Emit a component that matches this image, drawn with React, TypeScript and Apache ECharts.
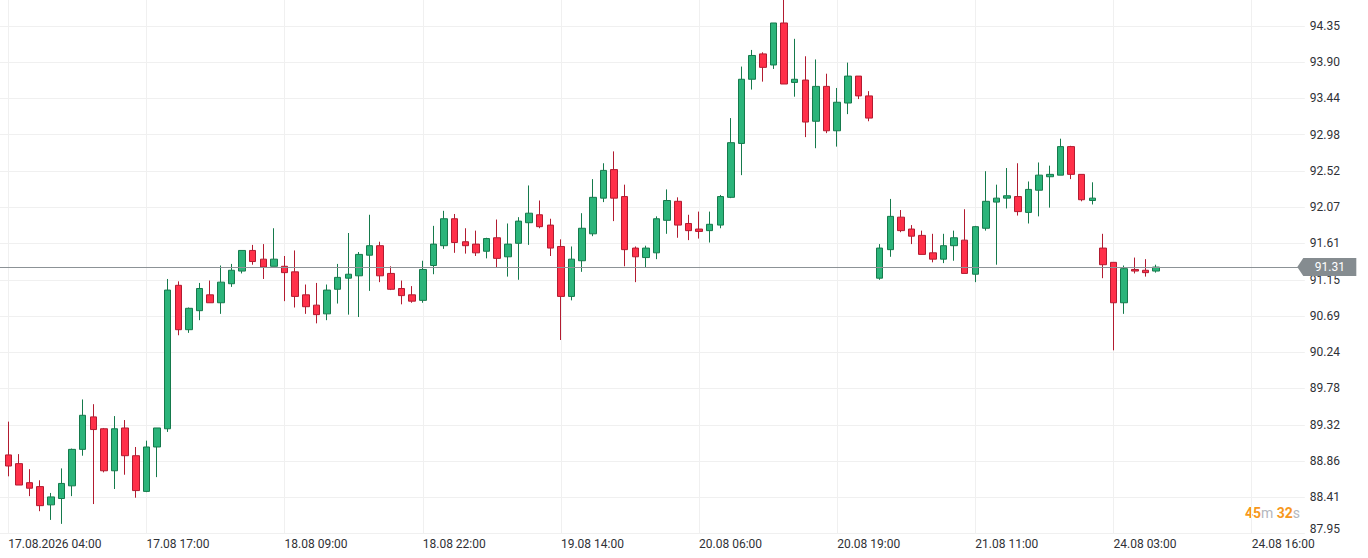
import React, { useEffect, useRef } from "react";
import * as echarts from "echarts";

// ---- data ----
const xTickLabels = [
  "17.08.2026 04:00",
  "17.08 17:00",
  "18.08 09:00",
  "18.08 22:00",
  "19.08 14:00",
  "20.08 06:00",
  "20.08 19:00",
  "21.08 11:00",
  "24.08 03:00",
  "24.08 16:00",
];
const candlesPerLabel = 13;
const lastSlot = 122;

const yTickLabels = [
  "87.95", "88.41", "88.86", "89.32", "89.78", "90.24", "90.69", "91.15",
  "91.61", "92.07", "92.52", "92.98", "93.44", "93.90", "94.35",
];

const opens = [
  88.94, 88.83, 88.59, 88.54, 88.31, 88.39, 88.55, 89.01, 89.42, 89.27,
  88.74, 89.28, 88.93, 88.48, 89.04, 89.27, 91.08, 90.52, 90.76, 90.96,
  90.86, 91.10, 91.26, 91.52, 91.41, 91.32, 91.32, 91.25, 90.96, 90.83,
  90.72, 91.03, 91.17, 91.20, 91.46, 91.58, 91.23, 91.04, 90.96, 90.89,
  91.33, 91.58, 91.92, 91.63, 91.60, 91.51, 91.68, 91.44, 91.61, 91.87,
  91.97, 91.84, 91.57, 90.94, 91.39, 91.73, 92.18, 92.54, 92.20, 91.55,
  91.43, 91.49, 91.90, 92.14, 91.86, 91.79, 91.77, 91.84, 92.19, 92.87,
  93.68, 94.00, 93.86, 94.39, 93.64, 93.67, 93.15, 93.59, 93.03, 93.38,
  93.72, 93.47, 91.17, 91.53, 91.94, 91.79, 91.71, 91.49, 91.41, 91.58,
  91.65, 91.22, 91.80, 92.13, 92.18, 92.20, 92.00, 92.28, 92.45, 92.47,
  92.83, 92.48, 92.15, 91.55, 91.37, 90.86, 91.28, 91.27, 91.26,
];
const highs = [
  89.36, 88.95, 88.76, 88.62, 88.46, 88.77, 89.02, 89.64, 89.58, 89.28,
  89.43, 89.38, 89.04, 89.12, 89.28, 91.16, 91.13, 90.80, 91.11, 91.14,
  91.33, 91.35, 91.52, 91.59, 91.60, 91.80, 91.45, 91.52, 91.09, 91.11,
  91.09, 91.35, 91.74, 91.50, 91.97, 91.63, 91.32, 91.14, 91.07, 91.39,
  91.83, 92.02, 91.98, 91.80, 91.77, 91.68, 91.91, 91.86, 91.94, 92.34,
  92.15, 91.92, 91.66, 91.57, 91.99, 92.42, 92.62, 92.77, 92.35, 91.57,
  91.58, 91.95, 92.29, 92.19, 91.97, 92.01, 92.01, 92.22, 93.19, 93.84,
  94.05, 94.02, 94.39, 94.72, 94.19, 93.97, 93.93, 93.75, 93.57, 93.89,
  93.72, 93.53, 91.60, 92.17, 92.03, 91.84, 91.77, 91.73, 91.73, 91.77,
  92.04, 91.83, 92.52, 92.35, 92.56, 92.62, 92.39, 92.63, 92.59, 92.93,
  92.84, 92.48, 92.38, 91.73, 91.37, 91.33, 91.43, 91.41, 91.34,
];
const lows = [
  88.67, 88.56, 88.42, 88.23, 88.12, 88.07, 88.42, 88.93, 88.32, 88.72,
  88.51, 88.69, 88.40, 88.47, 88.66, 89.23, 90.45, 90.48, 90.64, 90.86,
  90.72, 91.06, 91.23, 91.34, 91.16, 91.32, 90.88, 90.80, 90.72, 90.60,
  90.64, 90.85, 90.71, 90.68, 91.01, 91.12, 91.02, 90.84, 90.86, 90.86,
  91.22, 91.54, 91.49, 91.48, 91.45, 91.42, 91.30, 91.19, 91.15, 91.59,
  91.80, 91.45, 90.39, 90.89, 91.25, 91.70, 92.13, 91.89, 91.32, 91.12,
  91.31, 91.41, 91.73, 91.68, 91.65, 91.67, 91.62, 91.80, 92.18, 92.47,
  93.55, 93.65, 93.81, 93.62, 93.46, 92.95, 92.81, 93.00, 92.83, 93.24,
  93.43, 93.15, 91.15, 91.44, 91.75, 91.60, 91.47, 91.37, 91.36, 91.39,
  91.23, 91.12, 91.77, 91.34, 92.05, 91.96, 91.86, 91.95, 92.06, 92.47,
  92.42, 92.14, 92.10, 91.17, 90.26, 90.72, 91.23, 91.19, 91.24,
];
const closes = [
  88.80, 88.56, 88.52, 88.30, 88.41, 88.58, 89.01, 89.44, 89.26, 88.74,
  89.27, 88.93, 88.49, 89.04, 89.28, 91.02, 90.52, 90.79, 91.04, 90.86,
  91.12, 91.27, 91.52, 91.38, 91.31, 91.41, 91.24, 90.94, 90.81, 90.71,
  91.02, 91.18, 91.22, 91.47, 91.58, 91.20, 91.03, 90.95, 90.88, 91.28,
  91.60, 91.92, 91.62, 91.58, 91.49, 91.67, 91.42, 91.60, 91.89, 91.99,
  91.82, 91.55, 90.94, 91.41, 91.80, 92.19, 92.53, 92.18, 91.53, 91.44,
  91.55, 91.92, 92.15, 91.84, 91.77, 91.76, 91.85, 92.20, 92.88, 93.68,
  93.98, 93.83, 94.39, 93.62, 93.68, 93.14, 93.59, 93.03, 93.39, 93.72,
  93.47, 93.19, 91.55, 91.95, 91.77, 91.70, 91.47, 91.41, 91.58, 91.68,
  91.23, 91.82, 92.14, 92.18, 92.21, 92.01, 92.29, 92.47, 92.48, 92.83,
  92.48, 92.16, 92.18, 91.34, 90.86, 91.29, 91.26, 91.24, 91.31,
];
const lastPrice = 91.31;
const countdownMinutes = "45";
const countdownSeconds = "32";

// ---- styles ----
const textColor = "#2f3136";
const gridColor = "#f0f0f0";
const upFill = "#2bb47a";
const upBorder = "#157a4c";
const downFill = "#ff3049";
const downBorder = "#b21b30";
const priceLineColor = "#8c9296";
const tagColor = "#858c90";
const orange = "#f7981d";
const greyText = "#b4b7bd";
const font = "Roboto, 'Noto Sans', sans-serif";

export default function App() {
  const ref = useRef<HTMLDivElement>(null);

  useEffect(() => {
    document.body.style.margin = "0";
    if (!ref.current) return;
    const chart = echarts.init(ref.current, null, { renderer: "svg" });

    const data = opens.map((o, i) => [i, o, closes[i], lows[i], highs[i]]);
    const xTicks = xTickLabels.map((_, k) => k * candlesPerLabel);
    const yTicks = yTickLabels.map(Number);

    const option: any = {
      animation: false,
      grid: { left: 0, right: 63.2, top: 0, bottom: 24.5 },
      xAxis: {
        type: "value",
        min: -0.781,
        max: lastSlot,
        axisLine: { show: false },
        axisTick: { show: false, customValues: xTicks },
        axisLabel: {
          customValues: xTicks,
          formatter: (v: number) => {
            const k = Math.round(v / candlesPerLabel);
            return Math.abs(v - k * candlesPerLabel) < 1e-6 && xTickLabels[k] ? xTickLabels[k] : "";
          },
          align: "left",
          margin: 4,
          color: textColor,
          fontSize: 12,
          fontFamily: font,
        },
        splitLine: { show: true, lineStyle: { color: gridColor, width: 1 } },
      },
      yAxis: {
        type: "value",
        position: "right",
        min: 87.9485,
        max: 94.68,
        axisLine: { show: false },
        axisTick: { show: false, customValues: yTicks },
        axisLabel: {
          customValues: yTicks,
          formatter: (v: number) => {
            const s = v.toFixed(2);
            return v === yTicks[0] ? `{low|${s}}` : s;
          },
          margin: 5,
          color: textColor,
          fontSize: 12,
          fontFamily: font,
          rich: {
            low: { padding: [0, 0, 8, 0], color: textColor, fontSize: 12, fontFamily: font },
          },
        },
        splitLine: { show: true, lineStyle: { color: gridColor, width: 1 } },
      },
      series: [
        {
          type: "candlestick",
          data,
          encode: { x: 0, y: [1, 2, 3, 4] },
          barWidth: 7,
          clip: false,
          itemStyle: {
            color: upFill,
            color0: downFill,
            borderColor: upBorder,
            borderColor0: downBorder,
            borderWidth: 1,
          },
          markLine: {
            silent: true,
            symbol: ["none", "none"],
            label: { show: false },
            lineStyle: { color: priceLineColor, width: 1, type: "solid" },
            data: [{ yAxis: lastPrice }],
          },
          markPoint: {
            silent: true,
            symbol: "path://M0,9 L6,0 L59,0 L59,18 L6,18 Z",
            symbolSize: [59, 18],
            symbolKeepAspect: false,
            symbolOffset: [22, 0],
            itemStyle: { color: tagColor },
            label: {
              show: true,
              position: "inside",
              offset: [3, 0],
              formatter: lastPrice.toFixed(2),
              color: "#ffffff",
              fontSize: 12,
              fontFamily: font,
            },
            data: [{ coord: [lastSlot, lastPrice] }],
          },
        },
      ],
      graphic: [
        {
          type: "text",
          x: 1300,
          y: 513,
          silent: true,
          style: {
            text: `{o|${countdownMinutes}}{g|m} {o|${countdownSeconds}}{g|s}`,
            align: "right",
            verticalAlign: "middle",
            fontFamily: font,
            fontSize: 14,
            rich: {
              o: { fill: orange, color: orange, fontSize: 14, fontWeight: "bold", fontFamily: font },
              g: { fill: greyText, color: greyText, fontSize: 14, fontFamily: font },
            },
          },
        },
      ],
    };

    chart.setOption(option);
    return () => chart.dispose();
  }, []);

  return (
    <div
      ref={ref}
      style={{ position: "absolute", left: 0, top: 0, width: 1368, height: 558 }}
    />
  );
}
